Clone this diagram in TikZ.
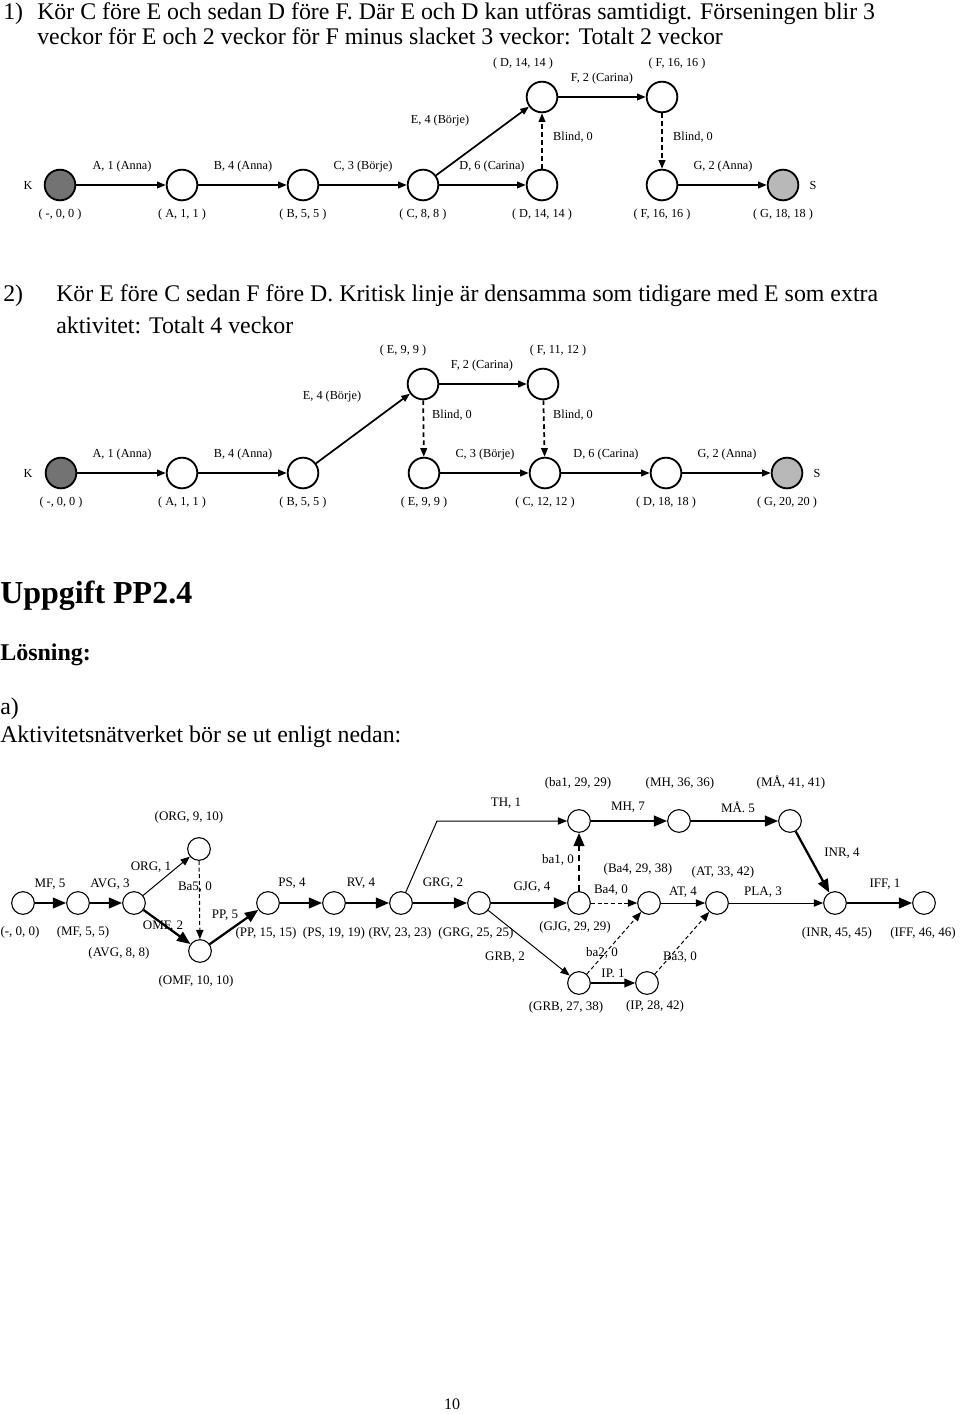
\documentclass[tikz,border=0pt]{standalone}
\usepackage{fontspec}
\setmainfont{Liberation Serif}
\usetikzlibrary{arrows.meta}
\begin{document}
\begin{tikzpicture}[x=0.75pt,y=-0.75pt,
  ev/.style={circle, draw, line width=1.4pt, minimum size=23pt, inner sep=0pt},
  evK/.style={ev, fill=black!55},
  evS/.style={ev, fill=black!28},
  nn/.style={circle, draw, line width=0.8pt, minimum size=17pt, inner sep=0pt},
  lb/.style={font=\fontsize{9.2}{10}\selectfont, inner sep=0pt},
  nl/.style={font=\fontsize{9.75}{11}\selectfont, inner sep=0pt},
  tx/.style={font=\fontsize{17.9}{20}\selectfont, inner sep=0pt, anchor=base west},
  ed/.style={line width=1.3pt, -{Triangle[length=6.5pt,width=5pt]}},
  bl/.style={ed, dash pattern=on 3.5pt off 2.5pt},
  cr/.style={line width=1.7pt, -{Triangle[length=10pt,width=8pt]}},
  thn/.style={line width=0.75pt, -{Triangle[length=7pt,width=5.5pt]}},
  md/.style={line width=1.2pt, -{Triangle[length=8pt,width=6.5pt]}},
  dsh/.style={thn, dash pattern=on 3pt off 2pt},
  crd/.style={cr, dash pattern=on 4.5pt off 3pt}
]
\useasboundingbox (0,0) rectangle (960,1414);

% ---------- Section 1 heading ----------
\node[tx] (h1n) at (3,19) {1)};
\node[tx] (h1a) at (37,19) {Kör C före E och sedan D före F. Där E och D kan utföras samtidigt. Förseningen blir 3};
\node[tx] (h1b) at (37,44) {veckor för E och 2 veckor för F minus slacket 3 veckor: Totalt 2 veckor};

% ---------- Section 1 network ----------
\node[evK] (K1) at (60,185) {};
\node[ev] (A1) at (182,185) {};
\node[ev] (B1) at (303,185) {};
\node[ev] (C1) at (423,185) {};
\node[ev] (Db1) at (542,185) {};
\node[ev] (Dt1) at (542,97) {};
\node[ev] (Ft1) at (662,97) {};
\node[ev] (Fb1) at (662,185) {};
\node[evS] (S1) at (783,185) {};

\node[lb] (K1l) at (28,185) {K};
\node[lb] (S1l) at (813,185) {S};
\node[lb] (a1l) at (122,167) {A, 1 (Anna)};
\node[lb] (b1l) at (243,167) {B, 4 (Anna)};
\node[lb] (c1l) at (363,167) {C, 3 (Börje)};
\node[lb] (d1l) at (492,167) {D, 6 (Carina)};
\node[lb] (g1l) at (723,167) {G, 2 (Anna)};
\node[lb] (e1l) at (440,121) {E, 4 (Börje)};
\node[lb] (f1l) at (602,79) {F, 2 (Carina)};
\node[lb] (bl1a) at (573,137) {Blind, 0};
\node[lb] (bl1b) at (693,137) {Blind, 0};
\node[lb] (dt1l) at (523,64) {( D, 14, 14 )};
\node[lb] (ft1l) at (677,64) {( F, 16, 16 )};
\node[lb] (k1e) at (60,215) {( -, 0, 0 )};
\node[lb] (a1e) at (182,215) {( A, 1, 1 )};
\node[lb] (b1e) at (303,215) {( B, 5, 5 )};
\node[lb] (c1e) at (423,215) {( C, 8, 8 )};
\node[lb] (d1e) at (542,215) {( D, 14, 14 )};
\node[lb] (f1e) at (662,215) {( F, 16, 16 )};
\node[lb] (g1e) at (783,215) {( G, 18, 18 )};

\draw[ed] (K1) -- (A1);
\draw[ed] (A1) -- (B1);
\draw[ed] (B1) -- (C1);
\draw[ed] (C1) -- (Db1);
\draw[ed] (C1) -- (Dt1);
\draw[bl] (Db1) -- (Dt1);
\draw[ed] (Dt1) -- (Ft1);
\draw[bl] (Ft1) -- (Fb1);
\draw[ed] (Fb1) -- (S1);

% ---------- Section 2 heading ----------
\node[tx] (h2n) at (3,301) {2)};
\node[tx] (h2a) at (56,301) {Kör E före C sedan F före D. Kritisk linje är densamma som tidigare med E som extra};
\node[tx] (h2b) at (56,333) {aktivitet: Totalt 4 veckor};

% ---------- Section 2 network ----------
\node[evK] (K2) at (61,473) {};
\node[ev] (A2) at (182,473) {};
\node[ev] (B2) at (303,473) {};
\node[ev] (Et2) at (423,384) {};
\node[ev] (Eb2) at (424,473) {};
\node[ev] (Ft2) at (543,384) {};
\node[ev] (C2) at (545,473) {};
\node[ev] (D2) at (666,473) {};
\node[evS] (S2) at (787,473) {};

\node[lb] (K2l) at (28,473) {K};
\node[lb] (S2l) at (817,473) {S};
\node[lb] (et2l) at (403,351) {( E, 9, 9 )};
\node[lb] (ft2l) at (558,351) {( F, 11, 12 )};
\node[lb] (f2l) at (482,366) {F, 2 (Carina)};
\node[lb] (e2l) at (332,397) {E, 4 (Börje)};
\node[lb] (bl2a) at (452,415) {Blind, 0};
\node[lb] (bl2b) at (573,415) {Blind, 0};
\node[lb] (a2l) at (122,455) {A, 1 (Anna)};
\node[lb] (b2l) at (243,455) {B, 4 (Anna)};
\node[lb] (c2l) at (485,455) {C, 3 (Börje)};
\node[lb] (d2l) at (606,455) {D, 6 (Carina)};
\node[lb] (g2l) at (727,455) {G, 2 (Anna)};
\node[lb] (k2e) at (61,503) {( -, 0, 0 )};
\node[lb] (a2e) at (182,503) {( A, 1, 1 )};
\node[lb] (b2e) at (303,503) {( B, 5, 5 )};
\node[lb] (e2e) at (424,503) {( E, 9, 9 )};
\node[lb] (c2e) at (545,503) {( C, 12, 12 )};
\node[lb] (d2e) at (666,503) {( D, 18, 18 )};
\node[lb] (g2e) at (787,503) {( G, 20, 20 )};

\draw[ed] (K2) -- (A2);
\draw[ed] (A2) -- (B2);
\draw[ed] (B2) -- (Et2);
\draw[ed] (Et2) -- (Ft2);
\draw[bl] (Et2) -- (Eb2);
\draw[bl] (Ft2) -- (C2);
\draw[ed] (Eb2) -- (C2);
\draw[ed] (C2) -- (D2);
\draw[ed] (D2) -- (S2);

% ---------- Section 3 headings ----------
\node[inner sep=0pt, anchor=base west, font=\fontsize{24}{28}\selectfont\bfseries] (upg) at (0,603) {Uppgift PP2.4};
\node[inner sep=0pt, anchor=base west, font=\fontsize{18}{21}\selectfont\bfseries] (los) at (0,660) {Lösning:};
\node[tx] (aa) at (0,714) {a)};
\node[tx] (akt) at (0,742) {Aktivitetsnätverket bör se ut enligt nedan:};

% ---------- Activity network ----------
\node[nn] (n0) at (23,903) {};
\node[nn] (MF) at (78,903) {};
\node[nn] (AVG) at (134,903) {};
\node[nn] (ORG) at (199,849) {};
\node[nn] (OMF) at (200,951) {};
\node[nn] (PP) at (268,903) {};
\node[nn] (PS) at (334,903) {};
\node[nn] (RV) at (401,903) {};
\node[nn] (GRG) at (479,903) {};
\node[nn] (BA1) at (579,821) {};
\node[nn] (MH) at (679,821) {};
\node[nn] (MA) at (790,821) {};
\node[nn] (GJG) at (579,903) {};
\node[nn] (BA4) at (649,903) {};
\node[nn] (AT) at (717,903) {};
\node[nn] (INR) at (835,903) {};
\node[nn] (IFF) at (924,903) {};
\node[nn] (GRB) at (579,983) {};
\node[nn] (IP) at (647,983) {};
\coordinate (thc) at (437,821);

\node[nl] (l1) at (189,817) {(ORG, 9, 10)};
\node[nl] (l2) at (50,884) {MF, 5};
\node[nl] (l3) at (110,884) {AVG, 3};
\node[nl] (l4) at (151,867) {ORG, 1};
\node[nl] (l5) at (195,887) {Ba5, 0};
\node[nl] (l6) at (225,915) {PP, 5};
\node[nl] (l7) at (163,926) {OMF, 2};
\node[nl] (l8) at (292,883) {PS, 4};
\node[nl] (l9) at (361,883) {RV, 4};
\node[nl] (l10) at (443,883) {GRG, 2};
\node[nl] (l11) at (20,932) {(-, 0, 0)};
\node[nl] (l12) at (83,932) {(MF, 5, 5)};
\node[nl] (l13) at (119,953) {(AVG, 8, 8)};
\node[nl] (l14) at (266,933) {(PP, 15, 15)};
\node[nl] (l15) at (334,933) {(PS, 19, 19)};
\node[nl] (l16) at (400,933) {(RV, 23, 23)};
\node[nl] (l17) at (196,981) {(OMF, 10, 10)};
\node[nl] (l18) at (578,783) {(ba1, 29, 29)};
\node[nl] (l19) at (680,783) {(MH, 36, 36)};
\node[nl] (l20) at (791,783) {(MÅ, 41, 41)};
\node[nl] (l21) at (506,803) {TH, 1};
\node[nl] (l22) at (628,807) {MH, 7};
\node[nl] (l23) at (738,807) {MÅ. 5};
\node[nl] (l24) at (842,853) {INR, 4};
\node[nl] (l25) at (558,860) {ba1, 0};
\node[nl] (l26) at (638,869) {(Ba4, 29, 38)};
\node[nl] (l27) at (723,872) {(AT, 33, 42)};
\node[nl] (l28) at (532,887) {GJG, 4};
\node[nl] (l29) at (611,890) {Ba4, 0};
\node[nl] (l30) at (683,892) {AT, 4};
\node[nl] (l31) at (763,892) {PLA, 3};
\node[nl] (l32) at (885,884) {IFF, 1};
\node[nl] (l33) at (476,933) {(GRG, 25, 25)};
\node[nl] (l34) at (575,927) {(GJG, 29, 29)};
\node[nl] (l35) at (837,933) {(INR, 45, 45)};
\node[nl] (l36) at (923,933) {(IFF, 46, 46)};
\node[nl] (l37) at (505,957) {GRB, 2};
\node[nl] (l38) at (602,953) {ba2, 0};
\node[nl] (l39) at (680,957) {Ba3, 0};
\node[nl] (l40) at (613,973) {IP. 1};
\node[nl] (l41) at (566,1007) {(GRB, 27, 38)};
\node[nl] (l42) at (655,1006) {(IP, 28, 42)};

\draw[cr] (n0) -- (MF);
\draw[cr] (MF) -- (AVG);
\draw[thn] (AVG) -- (ORG);
\draw[cr] (AVG) -- (OMF);
\draw[dsh] (ORG) -- (OMF);
\draw[cr] (OMF) -- (PP);
\draw[cr] (PP) -- (PS);
\draw[cr] (PS) -- (RV);
\draw[cr] (RV) -- (GRG);
\draw[thn] (RV) -- (thc) -- (BA1);
\draw[cr] (GRG) -- (GJG);
\draw[thn] (GRG) -- (GRB);
\draw[crd] (GJG) -- (BA1);
\draw[dsh] (GJG) -- (BA4);
\draw[dsh] (GRB) -- (BA4);
\draw[md] (GRB) -- (IP);
\draw[dsh] (IP) -- (AT);
\draw[thn] (BA4) -- (AT);
\draw[thn] (AT) -- (INR);
\draw[cr] (BA1) -- (MH);
\draw[cr] (MH) -- (MA);
\draw[cr] (MA) -- (INR);
\draw[cr] (INR) -- (IFF);

% page number
\node[inner sep=0pt, anchor=base, font=\fontsize{12}{14}\selectfont] (pg) at (452,1409) {10};
\end{tikzpicture}
\end{document}
